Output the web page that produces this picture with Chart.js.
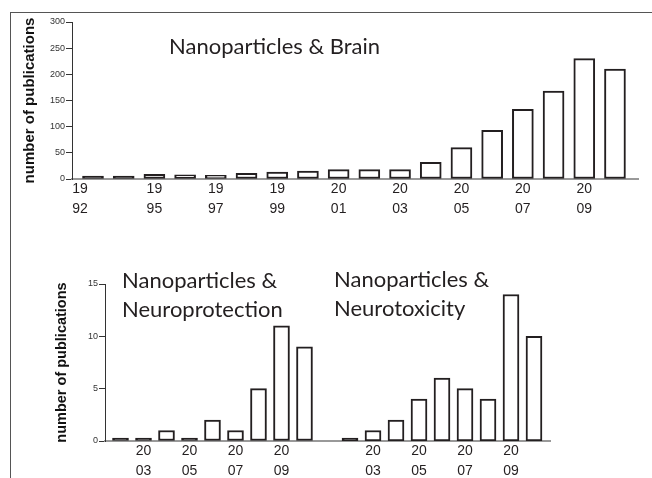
<!DOCTYPE html>
<html>
<head>
<meta charset="utf-8">
<script src="https://cdn.jsdelivr.net/npm/chart.js@4.4.1/dist/chart.umd.min.js"></script>
<style>
  html, body { margin: 0; padding: 0; background: #fff; }
  body { width: 652px; height: 478px; position: relative; overflow: hidden; }
  .frame { position: absolute; left: 10px; top: 12px; width: 660px; height: 480px;
           border-top: 1px solid #555; border-left: 1px solid #555; }
  canvas { position: absolute; }
  .panel-title { position: absolute; font-family: Lato, "Open Sans", sans-serif; font-size: 22px;
                 line-height: 29px; color: #231f20; white-space: nowrap; }
</style>
</head>
<body>
<div class="frame"></div>
<canvas id="chartBrain" width="652" height="230" style="left:0;top:0"></canvas>
<canvas id="chartProtect" width="330" height="238" style="left:0;top:240px"></canvas>
<canvas id="chartToxic" width="322" height="238" style="left:330px;top:240px"></canvas>
<div class="panel-title" style="left:169px;top:31px">Nanoparticles &amp; Brain</div>
<div class="panel-title" style="left:122px;top:265px">Nanoparticles &amp;<br>Neuroprotection</div>
<div class="panel-title" style="left:334px;top:264px">Nanoparticles &amp;<br>Neurotoxicity</div>
<script>
// publications per year
const brainYears = [1993, 1994, 1995, 1996, 1997, 1998, 1999, 2000, 2001, 2002, 2003, 2004, 2005, 2006, 2007, 2008, 2009, 2010];
const brainCounts = [1, 1, 9, 8, 7, 11, 13, 15, 18, 18, 18, 32, 60, 93, 133, 168, 230, 210];
const brainTickLabels = ['1992', '1995', '1997', '1999', '2001', '2003', '2005', '2007', '2009'];

const smallYears = [2002, 2003, 2004, 2005, 2006, 2007, 2008, 2009, 2010];
const protectCounts = [0, 0, 1, 0, 2, 1, 5, 11, 9];
const toxicCounts = [0, 1, 2, 4, 6, 5, 4, 14, 10];
const smallTickLabels = ['2003', '2005', '2007', '2009'];

const axisFont = 'Arial, "Liberation Sans", sans-serif';
const inkColor = '#231f20';

const splitYear = (txt) => [txt.slice(0, 2), txt.slice(2)];

// bars too short to show a white inside are drawn as a solid stroke, as in the print
const barDataset = (years, counts, thickness, solidBelow) => ({
  data: years.map((y, i) => ({ x: y, y: counts[i] })),
  backgroundColor: (c) => (counts[c.dataIndex] < solidBelow ? inkColor : '#ffffff'),
  borderColor: inkColor,
  borderWidth: 2,
  borderSkipped: false,
  barThickness: thickness,
  minBarLength: 3,
});

const yAxis = (max, step, width, titleSize, titlePad) => ({
  min: 0,
  max: max,
  afterFit: (scale) => { scale.width = width; },
  ticks: { stepSize: step, padding: 1, color: '#333', font: { family: axisFont, size: 9 } },
  grid: { drawOnChartArea: false, drawTicks: true, tickLength: 6, color: '#333', lineWidth: 1 },
  border: { display: true, color: '#333', width: 1 },
  title: {
    display: true,
    text: 'number of publications',
    color: '#111',
    font: { family: axisFont, size: titleSize, weight: 'bold' },
    padding: { top: titlePad, bottom: 0 },
  },
});

const xAxis = (min, max, height, tickLabels, positionOf) => ({
  type: 'linear',
  offset: false,
  min: min,
  max: max,
  afterFit: (scale) => { scale.height = height; },
  afterBuildTicks: (scale) => {
    scale.ticks = tickLabels.map(t => ({ value: positionOf(Number(t), scale) }));
  },
  ticks: {
    padding: 0,
    maxRotation: 0,
    autoSkip: false,
    color: inkColor,
    font: { family: axisFont, size: 14, lineHeight: 1.45 },
    callback: (value, index) => splitYear(tickLabels[index]),
  },
  grid: { display: false, drawTicks: false },
  border: { display: true, color: '#999', width: 2 },
});

const baseOptions = (padding, scales) => ({
  responsive: false,
  animation: false,
  layout: { padding: padding },
  plugins: { legend: { display: false }, tooltip: { enabled: false } },
  scales: scales,
});

// Nanoparticles & Brain
new Chart(document.getElementById('chartBrain'), {
  type: 'bar',
  data: { datasets: [barDataset(brainYears, brainCounts, 21, 3)] },
  options: baseOptions({ top: 22, right: 14, left: 0, bottom: 0 }, {
    // the 1992 label sits at the start of the axis in the original
    x: xAxis(1992.316, 2010.75, 51, brainTickLabels, (y, s) => Math.max(y, s.min + 0.26)),
    y: yAxis(300, 50, 72, 15, 21),
  }),
});

// Nanoparticles & Neuroprotection
new Chart(document.getElementById('chartProtect'), {
  type: 'bar',
  data: { datasets: [barDataset(smallYears, protectCounts, 16, 0.5)] },
  options: baseOptions({ top: 44, right: 0, left: 0, bottom: 0 }, {
    x: xAxis(2001.326, 2011.109, 37, smallTickLabels, (y) => y),
    y: yAxis(15, 5, 105, 14.5, 53),
  }),
});

// Nanoparticles & Neurotoxicity
new Chart(document.getElementById('chartToxic'), {
  type: 'bar',
  data: { datasets: [barDataset(smallYears, toxicCounts, 16, 0.5)] },
  options: baseOptions({ top: 44, right: 102, left: 0, bottom: 0 }, {
    x: xAxis(2001.130, 2010.696, 37, smallTickLabels, (y) => y),
    y: { display: false, min: 0, max: 15 },
  }),
});
</script>
</body>
</html>
